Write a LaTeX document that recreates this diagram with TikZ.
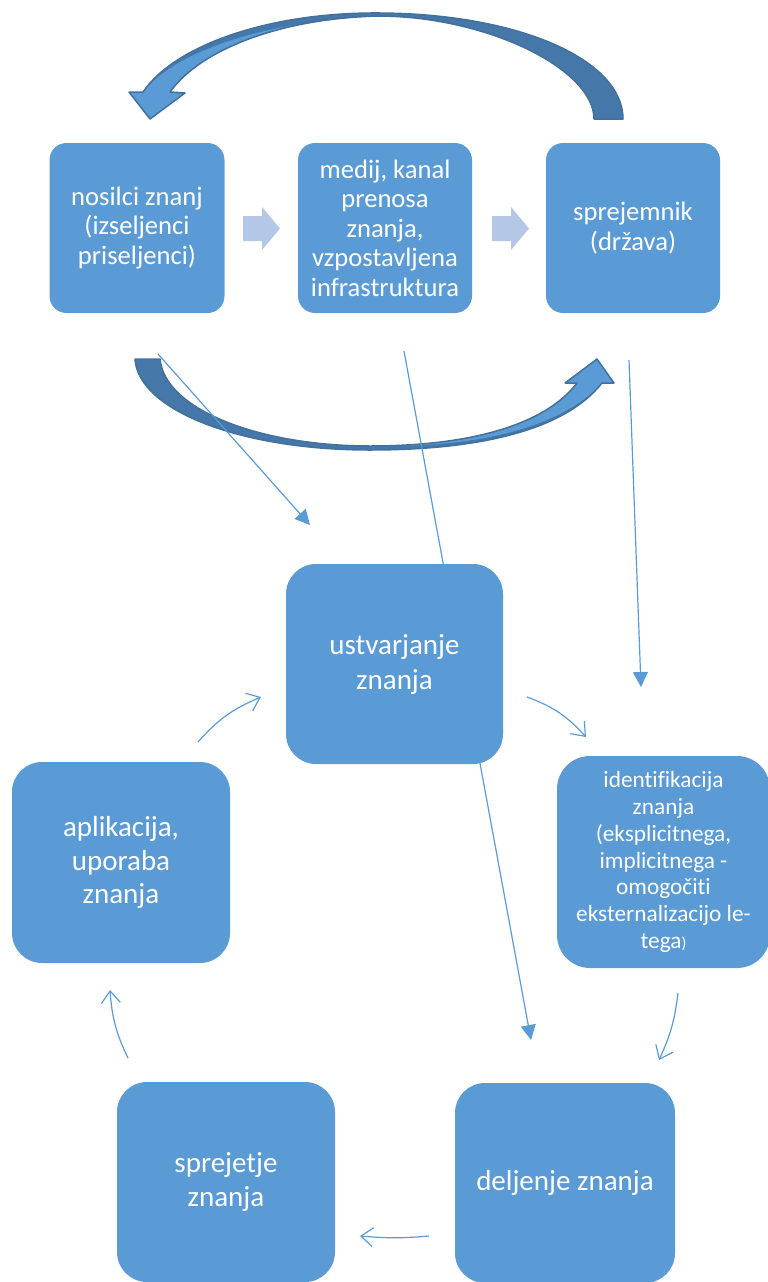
\documentclass[tikz,border=0pt]{standalone}
\usepackage{fontspec}
\setmainfont{Carlito}[Ligatures=CommonOff]
\usetikzlibrary{arrows.meta,bending}
\definecolor{boxblue}{HTML}{5B9BD5}
\definecolor{paleblue}{HTML}{B4C7E7}
\definecolor{darkblue}{HTML}{4677A9}
\definecolor{edgeblue}{HTML}{41719C}
\newcommand\toparrowpath{(623,-119) .. controls (623,-60) and (520,-14) .. (380,-13) .. controls (270,-12) and (175,-45) .. (143,-92) -- (129,-92) -- (150,-119) -- (185,-93) -- (170,-92) .. controls (200,-50) and (280,-18) .. (380,-16) .. controls (490,-17) and (594,-70) .. (594,-119) -- cycle}
\newcommand\toparrowlight{(143,-92) .. controls (178,-48) and (275,-20) .. (380,-16) .. controls (280,-18) and (200,-50) .. (170,-92) -- (185,-93) -- (150,-119) -- (129,-92) -- cycle}
\newcommand\botarrowpath{(135,-359) .. controls (138,-410) and (240,-450) .. (370,-450) .. controls (480,-450) and (565,-430) .. (602,-383) -- (614,-383) -- (597,-359) -- (565,-383) -- (577,-383) .. controls (545,-425) and (470,-446) .. (370,-446) .. controls (260,-446) and (165,-410) .. (160,-359) -- cycle}
\newcommand\botarrowlight{(577,-383) .. controls (545,-425) and (470,-446) .. (370,-446) .. controls (480,-448) and (562,-427) .. (602,-383) -- (614,-383) -- (597,-359) -- (565,-383) -- cycle}
\tikzset{
  box/.style={fill=boxblue, rounded corners=#1, text=white, align=center, inner sep=0pt},
  topbox/.style={box=17pt, minimum width=175pt, minimum height=170pt, font=\fontsize{26.6}{29.5}\selectfont},
  cycbox/.style={box=30pt, minimum width=218pt, minimum height=200pt, font=\fontsize{29}{33.5}\selectfont},
  chevron/.style={fill=paleblue},
  conn/.style={draw=boxblue, line width=1.2pt},
  filledtip/.style={conn, -{Triangle[length=15pt,width=15pt]}},
  opentip/.style={conn, -{Straight Barb[length=12pt,width=19pt,line width=1.2pt]}},
  arrowedge/.style={draw=edgeblue, line width=1.5pt, line join=round}
}
\begin{document}
\begin{tikzpicture}[x=1pt,y=1pt]
\useasboundingbox (0,0) rectangle (768,-1282);
\clip (0,0) rectangle (768,-1282);
% big curved arrows
\fill[darkblue] \toparrowpath;
\fill[boxblue] \toparrowlight;
\path[arrowedge] \toparrowpath;
\fill[darkblue] \botarrowpath;
\fill[boxblue] \botarrowlight;
\path[arrowedge] \botarrowpath;
% chevrons
\fill[chevron] (243,-216) -- (262,-216) -- (262,-207) -- (280,-228.5) -- (262,-250) -- (262,-241) -- (243,-241) -- cycle;
\fill[chevron] (492,-216) -- (511,-216) -- (511,-207) -- (529,-228.5) -- (511,-250) -- (511,-241) -- (492,-241) -- cycle;
% connector end points
\coordinate (p1s) at (158,-354); \coordinate (p1e) at (310,-525);
\coordinate (p2s) at (404,-351); \coordinate (p2e) at (531,-1040);
\coordinate (p3s) at (629,-360); \coordinate (p3e) at (641,-687);
\coordinate (q1s) at (527,-697); \coordinate (q1e) at (586,-737);
\coordinate (q2s) at (678,-993); \coordinate (q2e) at (659,-1060);
\coordinate (q3s) at (429,-1236); \coordinate (q3e) at (360,-1236);
\coordinate (q4s) at (128,-1058); \coordinate (q4e) at (110,-990);
\coordinate (q5s) at (198,-742); \coordinate (q5e) at (261,-697);
\draw[filledtip] (p1s) -- (p1e);
\draw[filledtip] (p2s) -- (p2e);
\draw[filledtip] (p3s) -- (p3e);
\draw[opentip] (q1s) to[bend left=14] (q1e);
\draw[opentip] (q2s) to[bend left=9] (q2e);
\draw[opentip] (q3s) to[bend left=5] (q3e);
\draw[opentip] (q4s) to[bend left=11] (q4e);
\draw[opentip] (q5s) to[bend left=13] (q5e);
% top boxes
\node[topbox] (n1) at (137,-228) {nosilci znanj\\(izseljenci\\priseljenci)};
\node[topbox, minimum width=174pt] (n2) at (385,-228) {medij, kanal\\prenosa\\znanja,\\vzpostavljena\\infrastruktura};
\node[topbox, minimum width=174pt] (n3) at (633,-228) {sprejemnik\\(država)};
% cycle boxes
\node[cycbox, minimum width=217pt, font=\fontsize{29}{35}\selectfont] (c1) at (394.5,-664) {ustvarjanje\\znanja};
\node[cycbox, box=33pt, minimum width=213pt, minimum height=212pt, font=\fontsize{23.3}{26.7}\selectfont] (c2) at (663.5,-862) {identifikacija\\znanja\\(eksplicitnega,\\implicitnega -\\omogočiti\\eksternalizacijo le-\\tega{\fontsize{16}{16}\selectfont)}};
\node[cycbox, minimum width=220pt] (c3) at (565,-1183) {deljenje znanja};
\node[cycbox] (c4) at (226,-1182) {sprejetje\\znanja};
\node[cycbox, minimum height=201pt] (c5) at (121,-862.5) {aplikacija,\\uporaba\\znanja};
\end{tikzpicture}
\end{document}
